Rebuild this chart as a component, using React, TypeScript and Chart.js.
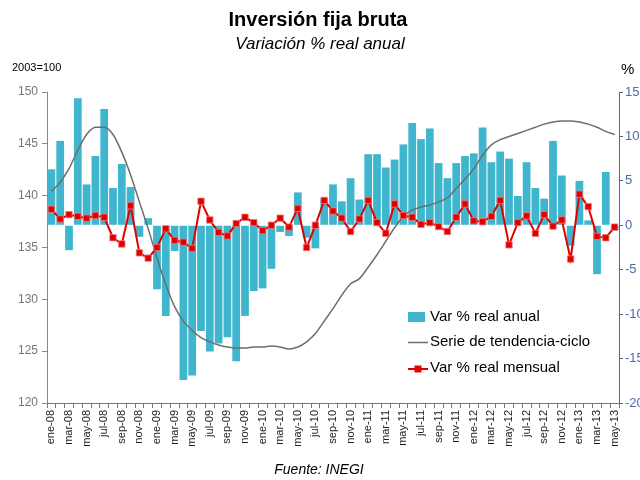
import React, { useEffect, useRef } from "react";
import { Chart, registerables } from "chart.js";

Chart.register(...registerables);

const monthNames = ["ene", "feb", "mar", "abr", "may", "jun", "jul", "ago", "sep", "oct", "nov", "dic"];
const years = ["08", "09", "10", "11", "12", "13"];
const categories: string[] = [];
years.forEach((y) => {
  monthNames.forEach((m, i) => {
    if (y === "13" && i > 4) return;
    categories.push(`${m}-${y}`);
  });
});

const varAnual = [
  6.3, 9.5, -2.8, 14.3, 4.6, 7.8, 13.1, 4.2, 6.9, 4.3, -1.3, 0.8,
  -7.2, -10.2, -2.9, -17.4, -16.9, -11.9, -14.2, -13.3, -12.6, -15.3, -10.2, -7.4,
  -7.1, -4.9, -0.75, -1.2, 3.7, -1.4, -2.6, 3.0, 4.6, 2.7, 5.3, 2.9,
  8.0, 8.0, 6.5, 7.4, 9.1, 11.5, 9.7, 10.9, 7.0, 5.3, 7.0, 7.8,
  8.1, 11.0, 7.1, 8.3, 7.5, 3.3, 7.1, 4.2, 3.0, 9.5, 5.6, -2.3,
  5.0, 0.55, -5.5, 6.0, -0.6,
];

const tendencia = [
  140.4, 141.3, 142.6, 144.4, 145.9, 146.6, 146.6, 145.9, 144.2, 142.0, 139.4, 136.8,
  134.0, 131.4, 129.3, 127.9, 127.0, 126.3, 125.9, 125.6, 125.4, 125.3, 125.3, 125.4,
  125.4, 125.5, 125.4, 125.2, 125.4, 125.9, 126.7, 127.9, 129.1, 130.4, 131.5, 132.0,
  133.1, 134.3, 135.6, 136.9, 138.0, 138.6, 138.9, 139.1, 139.4, 139.8, 140.7, 141.6,
  142.6, 143.9, 144.9, 145.4, 145.7, 146.0, 146.3, 146.6, 146.9, 147.1, 147.2, 147.2,
  147.1, 146.9, 146.6, 146.2, 145.9,
];

const varMensual = [
  1.8, 0.7, 1.2, 1.0, 0.8, 1.1, 0.9, -1.4, -2.1, 2.2, -3.1, -3.7,
  -2.5, -0.4, -1.7, -1.9, -2.6, 2.7, 0.6, -0.8, -1.2, 0.2, 0.9, 0.3,
  -0.6, 0.0, 0.8, -0.2, 1.9, -2.5, 0.0, 2.8, 1.6, 0.8, -0.7, 0.7,
  2.8, 0.3, -0.9, 2.4, 1.1, 0.9, 0.1, 0.3, -0.15, -0.7, 0.9, 2.4,
  0.5, 0.4, 1.0, 2.8, -2.2, 0.3, 1.05, -0.9, 1.2, -0.1, 0.6, -3.8,
  3.5, 2.1, -1.25, -1.4, -0.2,
];

const seriesNames = ["Var % real anual", "Serie de tendencia-ciclo", "Var % real mensual"];
const titleText = "Inversión fija bruta";
const subtitleText = "Variación % real anual";
const leftUnit = "2003=100";
const rightUnit = "%";
const sourceText = "Fuente: INEGI";

const BAR = "#3FB6CE";
const GRAY = "#6e6e6e";
const RED = "#E00000";
const FONT = "'Liberation Sans', Arial, sans-serif";

const textPlugin = {
  id: "texts",
  afterDraw(chart: any) {
    const ctx = chart.ctx;
    ctx.save();
    ctx.fillStyle = "#000";
    ctx.textBaseline = "middle";
    ctx.textAlign = "center";
    ctx.font = `bold 20px ${FONT}`;
    ctx.fillText(titleText, 318, 20);
    ctx.font = `italic 17px ${FONT}`;
    ctx.fillText(subtitleText, 320, 44);
    ctx.font = `italic 14px ${FONT}`;
    ctx.fillText(sourceText, 319, 470);
    ctx.textAlign = "left";
    ctx.font = `11px ${FONT}`;
    ctx.fillText(leftUnit, 12, 68);
    ctx.font = `15px ${FONT}`;
    ctx.fillText(rightUnit, 621, 70);

    // legend
    ctx.font = `15px ${FONT}`;
    ctx.fillStyle = BAR;
    ctx.fillRect(408, 312, 17, 10);
    ctx.fillStyle = "#000";
    ctx.fillText(seriesNames[0], 430, 317);

    ctx.strokeStyle = GRAY;
    ctx.lineWidth = 1.5;
    ctx.beginPath();
    ctx.moveTo(408, 342.5);
    ctx.lineTo(428, 342.5);
    ctx.stroke();
    ctx.fillText(seriesNames[1], 430, 342);

    ctx.strokeStyle = RED;
    ctx.lineWidth = 2;
    ctx.beginPath();
    ctx.moveTo(408, 369);
    ctx.lineTo(428, 369);
    ctx.stroke();
    ctx.fillStyle = RED;
    ctx.fillRect(414.5, 365.5, 7, 7);
    ctx.fillStyle = "#000";
    ctx.fillText(seriesNames[2], 430, 368);
    ctx.restore();
  },
};

export default function App() {
  const ref = useRef<HTMLCanvasElement | null>(null);
  useEffect(() => {
    if (!ref.current) return;
    const chart = new Chart(ref.current, {
      type: "bar",
      data: {
        labels: categories,
        datasets: [
          {
            type: "line",
            label: seriesNames[2],
            data: varMensual,
            yAxisID: "yR",
            borderColor: RED,
            borderWidth: 2,
            backgroundColor: RED,
            pointStyle: "rect",
            pointRadius: 4.5,
            pointBackgroundColor: RED,
            pointBorderColor: "rgba(240,120,120,0.8)",
            pointBorderWidth: 1,
            order: 0,
          } as any,
          {
            type: "line",
            label: seriesNames[1],
            data: tendencia,
            yAxisID: "yL",
            borderColor: GRAY,
            borderWidth: 1.5,
            pointRadius: 0,
            cubicInterpolationMode: "monotone",
            order: 1,
          } as any,
          {
            type: "bar",
            label: seriesNames[0],
            data: varAnual,
            yAxisID: "yR",
            backgroundColor: BAR,
            barPercentage: 0.88,
            categoryPercentage: 1,
            order: 2,
          } as any,
        ],
      },
      options: {
        responsive: false,
        animation: false,
        layout: { padding: { top: 92, left: 0, right: 0, bottom: 0 } },
        plugins: {
          legend: { display: false },
          title: { display: false },
          tooltip: { enabled: false },
        },
        scales: {
          x: {
            offset: true,
            afterFit: (s: any) => {
              s.height = 77;
            },
            grid: {
              display: true,
              drawOnChartArea: false,
              offset: true,
              tickLength: 5,
              color: "#777",
            },
            border: { color: "#777", width: 1 },
            ticks: {
              autoSkip: false,
              minRotation: 90,
              maxRotation: 90,
              padding: 2,
              color: "#222",
              font: { family: FONT, size: 11 },
              callback: function (this: any, value: any, index: number) {
                return index % 2 === 0 ? categories[index] : "";
              },
            },
          },
          yL: {
            type: "linear",
            position: "left",
            min: 120,
            max: 150,
            afterFit: (s: any) => {
              s.width = 47;
            },
            grid: { drawOnChartArea: false, tickLength: 5, color: "#888" },
            border: { color: "#888", width: 1 },
            ticks: {
              stepSize: 5,
              padding: 4,
              color: "#777",
              font: { family: FONT, size: 12 },
            },
          },
          yR: {
            type: "linear",
            position: "right",
            min: -20,
            max: 15,
            afterFit: (s: any) => {
              s.width = 21;
            },
            grid: { drawOnChartArea: false, tickLength: 4, color: "#666" },
            border: { color: "#666", width: 1 },
            ticks: {
              stepSize: 5,
              padding: 2,
              color: "#4F69A8",
              font: { family: FONT, size: 13 },
            },
          },
        },
      },
      plugins: [textPlugin],
    });
    return () => chart.destroy();
  }, []);
  return (
    <div style={{ position: "fixed", left: 0, top: 0, width: 640, height: 480, background: "#fff" }}>
      <canvas ref={ref} width={640} height={480} style={{ display: "block" }} />
    </div>
  );
}
